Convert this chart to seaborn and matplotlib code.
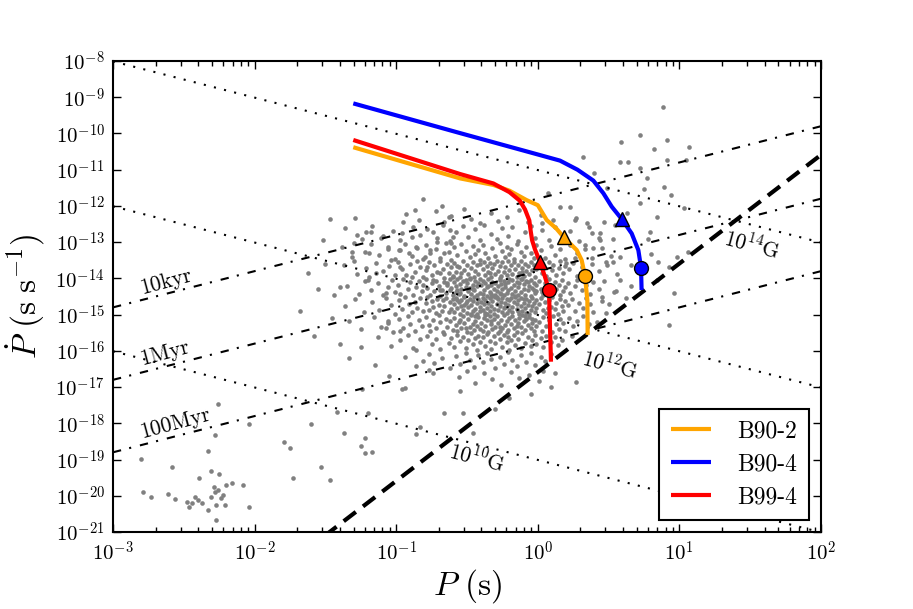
import numpy as np
import pandas as pd
import matplotlib
matplotlib.use("Agg")
import matplotlib.pyplot as plt
import seaborn as sns
from matplotlib.ticker import LogLocator, FuncFormatter, NullFormatter, NullLocator

# ---- pulsar population, (log10 P [s], log10 Pdot [s/s]) ----
msp_pts = [
    (-2.79, -19.89), (-2.73, -20.04), (-2.61, -19.96), (-2.56, -20.09), (-2.58, -19.20), (-2.80, -18.99),
    (-2.48, -20.16), (-2.46, -20.30), (-2.44, -20.21), (-2.42, -20.04), (-2.40, -20.12), (-2.39, -19.52),
    (-2.37, -20.21), (-2.33, -20.39), (-2.31, -20.03), (-2.31, -19.32), (-2.29, -19.75), (-2.28, -19.89),
    (-2.27, -20.25), (-2.26, -19.84), (-2.25, -19.40), (-2.24, -20.07), (-2.22, -19.98), (-2.21, -20.25),
    (-2.20, -19.70), (-2.16, -19.64), (-2.27, -20.67), (-2.08, -19.70), (-2.04, -20.32), (-2.33, -18.76),
    (-2.28, -18.32), (-2.26, -17.48), (-2.04, -18.03), (-1.79, -18.52), (-1.75, -18.69), (-1.73, -19.52),
    (-1.60, -18.03), (-1.53, -19.20), (-1.47, -19.57), (-1.42, -17.70), (-1.37, -18.28), (-1.24, -17.04),
    (-1.25, -18.63), (-1.22, -18.41), (-1.22, -18.81), (-1.17, -18.78), (-1.20, -17.71), (-0.96, -17.06),
    (-0.94, -17.03), (-0.86, -18.30), (-0.83, -18.11), (-0.66, -17.72), (-0.46, -18.28), (-0.53, -17.72),
]

sparse_pts = [
    (-1.07, -15.38), (-1.06, -15.17), (-0.97, -15.44), (-0.86, -15.98), (-0.81, -16.27), (-0.77, -16.53),
    (-1.44, -14.46), (-1.07, -14.40), (-1.62, -13.85), (-1.55, -14.30), (-1.50, -13.60), (-1.68, -14.90),
    (-1.45, -15.10), (-1.58, -15.60), (-1.52, -12.95), (-1.40, -15.80), (-1.33, -16.20), (-1.25, -15.90),
    (-1.15, -16.40), (-1.05, -16.70), (0.09, -16.99), (0.27, -16.85), (0.93, -15.29), (0.45, -14.50),
    (0.50, -14.72), (0.55, -14.35), (0.62, -14.55), (0.48, -14.95), (0.66, -14.20), (0.58, -14.05),
    (0.42, -15.20), (0.12, -16.60), (-0.05, -17.20), (-0.20, -17.30), (-0.55, -17.10), (-0.30, -17.60),
    (-1.47, -12.37), (-1.29, -12.33), (-1.28, -12.80), (-1.21, -12.71), (-1.18, -12.72), (-0.95, -12.44),
    (-0.87, -12.11), (-0.81, -11.81), (-0.68, -11.99), (-0.63, -12.30), (-1.30, -13.03), (-1.11, -12.89),
    (-1.06, -13.13), (-0.96, -12.76), (-0.89, -12.85), (-0.74, -12.71), (-0.62, -12.66), (-1.31, -13.26),
    (-1.19, -13.31), (-1.30, -13.51), (-1.40, -14.23), (-1.20, -14.04), (-1.14, -13.86), (-1.04, -13.49),
    (-0.97, -13.22), (-0.91, -13.31), (-0.86, -13.13), (-0.80, -13.40), (-0.76, -13.22), (-0.71, -12.99),
    (-0.66, -13.31), (-0.61, -13.03), (-0.60, -12.85), (-0.97, -13.68), (-0.89, -13.95), (-0.78, -13.68),
    (-0.74, -14.04), (-0.69, -13.86), (-0.64, -14.14), (-0.60, -13.95), (-0.57, -14.32), (-0.69, -14.32),
]

high_b_pts = [
    (0.886, -9.26), (0.59, -10.23), (0.72, -10.04), (0.91, -10.18), (0.82, -10.43), (1.07, -10.38),
    (0.32, -10.64), (0.58, -10.78), (0.64, -10.78), (0.91, -10.73), (1.05, -10.73), (0.72, -10.96),
    (0.77, -11.24), (0.40, -11.10), (0.49, -11.51), (0.89, -11.47), (0.75, -11.54), (0.94, -11.70),
    (0.07, -11.65), (0.72, -11.93), (0.23, -12.04), (1.03, -12.07), (0.84, -12.30), (0.47, -12.44),
    (0.63, -12.20), (0.26, -12.39), (0.545, -12.53), (0.79, -12.71), (0.38, -12.76), (0.43, -12.88),
    (0.33, -13.08), (0.39, -13.17), (0.78, -12.92), (0.44, -12.94), (0.98, -13.40), (1.06, -13.26),
    (0.80, -13.33), (0.85, -13.54), (0.58, -13.40), (0.53, -13.54), (0.49, -13.63), (0.26, -13.45),
    (0.20, -13.58), (0.93, -13.68), (0.66, -13.63), (0.96, -14.41), (0.84, -14.04), (0.03, -12.48),
]

cloud_upper = [
    (-0.93, -12.21), (-0.84, -12.38), (-0.72, -12.15), (-0.66, -12.44), (-0.61, -12.27), (-0.52, -12.09),
    (-0.47, -12.36), (-0.41, -12.48), (-0.33, -12.19), (-0.28, -12.42), (-0.22, -12.31), (-0.13, -12.12),
    (-0.07, -12.45), (0.02, -12.26), (0.11, -12.39), (0.16, -12.04), (0.27, -12.33), (0.35, -12.47),
    (-1.36, -12.62), (-1.24, -12.91), (-1.17, -12.55), (-1.09, -12.83), (-1.02, -12.68), (-0.97, -12.95),
    (-0.88, -12.58), (-0.83, -12.79), (-0.78, -12.64), (-0.71, -12.88), (-0.67, -12.52), (-0.62, -12.97),
    (-0.58, -12.71), (-0.53, -12.56), (-0.49, -12.86), (-0.44, -12.63), (-0.41, -12.94), (-0.38, -12.53),
    (-0.33, -12.77), (-0.29, -12.92), (-0.25, -12.61), (-0.21, -12.84), (-0.18, -12.58), (-0.14, -12.96),
    (-0.09, -12.72), (-0.05, -12.55), (-0.02, -12.89), (0.03, -12.66), (0.08, -12.93), (0.12, -12.57),
    (0.18, -12.81), (0.23, -12.69), (0.29, -12.97), (0.36, -12.58), (0.44, -12.75), (0.53, -12.91),
    (-1.38, -13.12), (-1.31, -13.41), (-1.22, -13.27), (-1.18, -13.06), (-1.12, -13.35), (-1.06, -13.18),
    (-1.01, -13.46), (-0.98, -13.23), (-0.94, -13.04), (-0.89, -13.38), (-0.85, -13.15), (-0.81, -13.47),
    (-0.79, -13.09), (-0.76, -13.31), (-0.72, -13.19), (-0.69, -13.44), (-0.65, -13.02), (-0.63, -13.27),
    (-0.61, -13.49), (-0.59, -13.13), (-0.57, -13.36), (-0.54, -13.05), (-0.51, -13.25), (-0.48, -13.42),
    (-0.46, -13.11), (-0.44, -13.33), (-0.42, -13.21), (-0.41, -13.48), (-0.39, -13.07), (-0.37, -13.29),
    (-0.35, -13.45), (-0.32, -13.16), (-0.30, -13.38), (-0.27, -13.03), (-0.25, -13.24), (-0.23, -13.41),
    (-0.22, -13.12), (-0.20, -13.34), (-0.19, -13.19), (-0.17, -13.47), (-0.15, -13.05), (-0.12, -13.28),
    (-0.10, -13.39), (-0.08, -13.14), (-0.05, -13.31), (-0.03, -13.45), (-0.01, -13.08), (0.02, -13.22),
    (0.05, -13.43), (0.09, -13.11), (0.12, -13.35), (0.16, -13.18), (0.19, -13.46), (0.23, -13.09),
    (0.28, -13.31), (0.33, -13.20), (0.38, -13.44), (0.45, -13.16), (0.52, -13.37),
]

cloud_core = [
    (-1.37, -13.62), (-1.28, -13.88), (-1.21, -13.71), (-1.19, -13.95), (-1.14, -13.58), (-1.09, -13.79),
    (-1.05, -13.66), (-1.01, -13.92), (-0.99, -13.55), (-0.96, -13.74), (-0.93, -13.90), (-0.90, -13.61),
    (-0.87, -13.83), (-0.85, -13.52), (-0.83, -13.69), (-0.81, -13.97), (-0.79, -13.77), (-0.77, -13.56),
    (-0.75, -13.91), (-0.73, -13.64), (-0.71, -13.82), (-0.69, -13.53), (-0.67, -13.73), (-0.66, -13.98),
    (-0.64, -13.60), (-0.63, -13.86), (-0.61, -13.69), (-0.60, -13.94), (-0.59, -13.57), (-0.58, -13.81),
    (-0.56, -13.68), (-0.55, -13.95), (-0.53, -13.52), (-0.52, -13.76), (-0.50, -13.63), (-0.49, -13.89),
    (-0.47, -13.71), (-0.46, -13.55), (-0.45, -13.97), (-0.44, -13.80), (-0.43, -13.64), (-0.42, -13.87),
    (-0.41, -13.59), (-0.48, -13.99), (-0.54, -13.84), (-0.57, -13.66), (-0.39, -13.74), (-0.38, -13.54),
    (-0.37, -13.92), (-0.36, -13.67), (-0.35, -13.83), (-0.34, -13.58), (-0.33, -13.96), (-0.32, -13.72),
    (-0.31, -13.61), (-0.30, -13.88), (-0.29, -13.51), (-0.28, -13.79), (-0.27, -13.65), (-0.26, -13.94),
    (-0.25, -13.56), (-0.24, -13.81), (-0.23, -13.69), (-0.22, -13.90), (-0.21, -13.53), (-0.20, -13.76),
    (-0.34, -13.85), (-0.27, -13.99), (-0.19, -13.64), (-0.18, -13.87), (-0.17, -13.55), (-0.16, -13.75),
    (-0.15, -13.97), (-0.14, -13.62), (-0.13, -13.84), (-0.12, -13.51), (-0.11, -13.71), (-0.10, -13.93),
    (-0.09, -13.59), (-0.08, -13.80), (-0.07, -13.67), (-0.06, -13.89), (-0.05, -13.54), (-0.04, -13.77),
    (-0.03, -13.63), (-0.02, -13.96), (-0.01, -13.73), (-0.11, -13.82), (0.01, -13.58), (0.03, -13.85),
    (0.04, -13.69), (0.06, -13.94), (0.08, -13.56), (0.10, -13.78), (0.11, -13.62), (0.13, -13.91),
    (0.15, -13.72), (0.16, -13.53), (0.18, -13.86), (0.19, -13.66), (0.22, -13.74), (0.25, -13.57),
    (0.28, -13.93), (0.31, -13.68), (0.35, -13.82), (0.38, -13.60), (0.43, -13.79), (0.48, -13.55),
    (0.56, -13.87),
    (-1.35, -14.21), (-1.26, -14.44), (-1.22, -14.08), (-1.18, -14.33), (-1.13, -14.12), (-1.09, -14.47),
    (-1.06, -14.25), (-1.03, -14.05), (-1.01, -14.38), (-0.99, -14.17), (-0.97, -14.42), (-0.95, -14.03),
    (-0.92, -14.29), (-0.90, -14.11), (-0.88, -14.46), (-0.86, -14.23), (-0.84, -14.07), (-0.82, -14.35),
    (-0.81, -14.19), (-0.79, -14.02), (-0.78, -14.27), (-0.76, -14.45), (-0.75, -14.14), (-0.73, -14.36),
    (-0.72, -14.06), (-0.70, -14.22), (-0.69, -14.49), (-0.68, -14.31), (-0.66, -14.10), (-0.65, -14.40),
    (-0.64, -14.18), (-0.62, -14.03), (-0.62, -14.33), (-0.61, -14.26), (-0.60, -14.47), (-0.59, -14.09),
    (-0.58, -14.38), (-0.58, -14.21), (-0.57, -14.01), (-0.56, -14.44), (-0.55, -14.15), (-0.54, -14.30),
    (-0.53, -14.06), (-0.52, -14.48), (-0.51, -14.24), (-0.50, -14.12), (-0.49, -14.36), (-0.48, -14.03),
    (-0.48, -14.27), (-0.47, -14.43), (-0.46, -14.17), (-0.45, -14.33), (-0.44, -14.08), (-0.43, -14.46),
    (-0.43, -14.22), (-0.42, -14.13), (-0.41, -14.39), (-0.41, -14.02), (-0.55, -14.41), (-0.51, -14.05),
    (-0.46, -14.29), (-0.40, -14.19), (-0.39, -14.44), (-0.39, -14.06), (-0.38, -14.31), (-0.37, -14.14),
    (-0.36, -14.48), (-0.36, -14.25), (-0.35, -14.03), (-0.34, -14.37), (-0.33, -14.17), (-0.33, -14.42),
    (-0.32, -14.09), (-0.31, -14.28), (-0.30, -14.46), (-0.30, -14.12), (-0.29, -14.34), (-0.28, -14.21),
    (-0.27, -14.04), (-0.27, -14.39), (-0.26, -14.15), (-0.25, -14.29), (-0.24, -14.47), (-0.24, -14.08),
    (-0.23, -14.23), (-0.22, -14.41), (-0.21, -14.11), (-0.21, -14.33), (-0.20, -14.02), (-0.35, -14.22),
    (-0.32, -14.49), (-0.26, -14.44), (-0.23, -14.16), (-0.19, -14.27), (-0.18, -14.05), (-0.18, -14.43),
    (-0.17, -14.18), (-0.16, -14.35), (-0.15, -14.09), (-0.14, -14.46), (-0.14, -14.24), (-0.13, -14.13),
    (-0.12, -14.38), (-0.11, -14.01), (-0.10, -14.29), (-0.10, -14.16), (-0.09, -14.45), (-0.08, -14.07),
    (-0.07, -14.32), (-0.06, -14.21), (-0.05, -14.48), (-0.05, -14.04), (-0.04, -14.26), (-0.03, -14.14),
    (-0.02, -14.41), (-0.01, -14.19), (-0.01, -14.35), (-0.16, -14.49), (-0.12, -14.03), (-0.07, -14.11),
    (-0.03, -14.31), (0.01, -14.07), (0.02, -14.28), (0.04, -14.45), (0.05, -14.14), (0.07, -14.34),
    (0.08, -14.02), (0.09, -14.22), (0.11, -14.41), (0.12, -14.11), (0.13, -14.30), (0.15, -14.18),
    (0.16, -14.47), (0.17, -14.05), (0.18, -14.36), (0.19, -14.24), (0.03, -14.37), (0.21, -14.12),
    (0.23, -14.39), (0.26, -14.21), (0.28, -14.05), (0.31, -14.33), (0.34, -14.17), (0.37, -14.44),
    (0.39, -14.09), (0.43, -14.28), (0.47, -14.06), (0.54, -14.37),
    (-1.36, -14.77), (-1.29, -14.58), (-1.23, -14.92), (-1.17, -14.66), (-1.12, -14.88), (-1.07, -14.53),
    (-1.04, -14.74), (-1.01, -14.97), (-0.98, -14.61), (-0.96, -14.85), (-0.94, -14.52), (-0.91, -14.72),
    (-0.89, -14.94), (-0.87, -14.64), (-0.85, -14.81), (-0.83, -14.55), (-0.81, -14.90), (-0.79, -14.68),
    (-0.78, -14.51), (-0.77, -14.87), (-0.75, -14.62), (-0.74, -14.79), (-0.72, -14.96), (-0.71, -14.56),
    (-0.70, -14.73), (-0.68, -14.89), (-0.67, -14.60), (-0.66, -14.77), (-0.65, -14.53), (-0.63, -14.93),
    (-0.62, -14.66), (-0.61, -14.84), (-0.60, -14.57), (-0.59, -14.71), (-0.59, -14.92), (-0.58, -14.54),
    (-0.57, -14.83), (-0.56, -14.65), (-0.55, -14.98), (-0.54, -14.59), (-0.54, -14.76), (-0.53, -14.87),
    (-0.52, -14.52), (-0.51, -14.69), (-0.50, -14.95), (-0.50, -14.62), (-0.49, -14.80), (-0.48, -14.56),
    (-0.47, -14.74), (-0.46, -14.91), (-0.46, -14.63), (-0.45, -14.51), (-0.44, -14.85), (-0.43, -14.68),
    (-0.43, -14.97), (-0.42, -14.58), (-0.41, -14.78), (-0.41, -14.89), (-0.57, -14.61), (-0.52, -14.73),
    (-0.47, -14.99), (-0.40, -14.64), (-0.39, -14.86), (-0.39, -14.53), (-0.38, -14.72), (-0.37, -14.95),
    (-0.37, -14.60), (-0.36, -14.81), (-0.35, -14.67), (-0.34, -14.55), (-0.34, -14.90), (-0.33, -14.75),
    (-0.32, -14.62), (-0.31, -14.98), (-0.31, -14.84), (-0.30, -14.51), (-0.29, -14.70), (-0.28, -14.88),
    (-0.28, -14.58), (-0.27, -14.77), (-0.26, -14.65), (-0.25, -14.93), (-0.25, -14.54), (-0.24, -14.82),
    (-0.23, -14.69), (-0.22, -14.57), (-0.22, -14.96), (-0.21, -14.74), (-0.20, -14.87), (-0.20, -14.61),
    (-0.36, -14.99), (-0.29, -14.52), (-0.23, -14.78), (-0.19, -14.55), (-0.18, -14.79), (-0.18, -14.94),
    (-0.17, -14.66), (-0.16, -14.52), (-0.15, -14.85), (-0.15, -14.71), (-0.14, -14.60), (-0.13, -14.97),
    (-0.12, -14.76), (-0.12, -14.53), (-0.11, -14.89), (-0.10, -14.67), (-0.09, -14.81), (-0.08, -14.58),
    (-0.08, -14.95), (-0.07, -14.73), (-0.06, -14.63), (-0.05, -14.88), (-0.04, -14.54), (-0.04, -14.77),
    (-0.03, -14.69), (-0.02, -14.92), (-0.01, -14.60), (-0.01, -14.83), (-0.14, -14.90), (-0.10, -14.56),
    (-0.06, -14.98), (0.01, -14.71), (0.02, -14.53), (0.04, -14.88), (0.05, -14.65), (0.06, -14.95),
    (0.08, -14.59), (0.09, -14.78), (0.10, -14.51), (0.12, -14.84), (0.13, -14.68), (0.14, -14.97),
    (0.16, -14.57), (0.17, -14.76), (0.18, -14.91), (0.19, -14.63), (0.07, -14.82), (0.21, -14.74),
    (0.24, -14.56), (0.26, -14.89), (0.29, -14.67), (0.32, -14.82), (0.34, -14.54), (0.37, -14.71),
    (0.39, -14.93), (0.45, -14.62),
]

cloud_lower = [
    (-1.33, -15.18), (-1.25, -15.41), (-1.16, -15.07), (-1.11, -15.33), (-1.06, -15.22), (-1.02, -15.47),
    (-0.98, -15.12), (-0.95, -15.36), (-0.92, -15.03), (-0.90, -15.25), (-0.87, -15.44), (-0.84, -15.16),
    (-0.82, -15.31), (-0.79, -15.06), (-0.77, -15.28), (-0.76, -15.45), (-0.74, -15.14), (-0.72, -15.37),
    (-0.70, -15.02), (-0.69, -15.21), (-0.67, -15.48), (-0.65, -15.11), (-0.64, -15.33), (-0.62, -15.19),
    (-0.60, -15.42), (-0.59, -15.08), (-0.58, -15.29), (-0.57, -15.46), (-0.55, -15.15), (-0.54, -15.38),
    (-0.53, -15.04), (-0.52, -15.23), (-0.50, -15.49), (-0.49, -15.12), (-0.48, -15.34), (-0.47, -15.01),
    (-0.46, -15.26), (-0.45, -15.43), (-0.44, -15.17), (-0.43, -15.31), (-0.42, -15.07), (-0.41, -15.39),
    (-0.56, -15.21), (-0.51, -15.36), (-0.44, -15.05), (-0.40, -15.22), (-0.39, -15.44), (-0.38, -15.09),
    (-0.37, -15.31), (-0.36, -15.16), (-0.35, -15.47), (-0.34, -15.03), (-0.33, -15.27), (-0.32, -15.39),
    (-0.31, -15.12), (-0.30, -15.33), (-0.29, -15.05), (-0.28, -15.24), (-0.27, -15.46), (-0.26, -15.14),
    (-0.25, -15.36), (-0.24, -15.02), (-0.23, -15.28), (-0.22, -15.19), (-0.21, -15.42), (-0.20, -15.08),
    (-0.37, -15.01), (-0.33, -15.18), (-0.27, -15.35), (-0.22, -15.49), (-0.19, -15.26), (-0.18, -15.04),
    (-0.17, -15.38), (-0.16, -15.15), (-0.15, -15.47), (-0.14, -15.22), (-0.13, -15.09), (-0.12, -15.33),
    (-0.11, -15.01), (-0.10, -15.19), (-0.09, -15.42), (-0.08, -15.12), (-0.07, -15.29), (-0.06, -15.06),
    (-0.05, -15.37), (-0.04, -15.23), (-0.03, -15.45), (-0.02, -15.14), (-0.01, -15.31), (-0.15, -15.32),
    (-0.09, -15.05), (-0.04, -15.11), (0.01, -15.21), (0.03, -15.44), (0.04, -15.07), (0.06, -15.32),
    (0.08, -15.16), (0.10, -15.48), (0.11, -15.03), (0.13, -15.27), (0.15, -15.39), (0.16, -15.11),
    (0.18, -15.24), (0.19, -15.46), (0.22, -15.09), (0.25, -15.31), (0.28, -15.18), (0.32, -15.04),
    (0.36, -15.27),
    (-1.13, -15.62), (-1.04, -15.86), (-0.97, -15.71), (-0.92, -15.55), (-0.88, -15.93), (-0.83, -15.66),
    (-0.78, -15.58), (-0.75, -15.82), (-0.72, -15.68), (-0.69, -15.96), (-0.66, -15.53), (-0.63, -15.77),
    (-0.61, -15.64), (-0.59, -15.89), (-0.57, -15.56), (-0.55, -15.74), (-0.53, -15.61), (-0.51, -15.92),
    (-0.49, -15.69), (-0.47, -15.52), (-0.46, -15.81), (-0.44, -15.65), (-0.43, -15.97), (-0.42, -15.58),
    (-0.41, -15.76), (-0.39, -15.63), (-0.37, -15.88), (-0.36, -15.54), (-0.34, -15.72), (-0.33, -15.95),
    (-0.31, -15.60), (-0.30, -15.79), (-0.28, -15.51), (-0.27, -15.67), (-0.25, -15.90), (-0.24, -15.57),
    (-0.22, -15.75), (-0.21, -15.62), (-0.20, -15.98), (-0.19, -15.70), (-0.17, -15.55), (-0.16, -15.84),
    (-0.14, -15.66), (-0.12, -15.93), (-0.11, -15.52), (-0.09, -15.77), (-0.07, -15.61), (-0.05, -15.87),
    (-0.04, -15.69), (-0.02, -15.56), (-0.01, -15.81), (0.02, -15.64), (0.04, -15.90), (0.06, -15.58),
    (0.09, -15.76), (0.12, -15.62), (0.14, -15.85), (0.17, -15.71), (0.24, -15.60),
    (-0.94, -16.18), (-0.86, -16.41), (-0.77, -16.09), (-0.73, -16.33), (-0.68, -16.21), (-0.62, -16.46),
    (-0.58, -16.14), (-0.55, -16.37), (-0.51, -16.05), (-0.48, -16.26), (-0.45, -16.44), (-0.42, -16.11),
    (-0.39, -16.31), (-0.36, -16.07), (-0.33, -16.22), (-0.30, -16.48), (-0.27, -16.16), (-0.24, -16.35),
    (-0.21, -16.03), (-0.18, -16.24), (-0.15, -16.42), (-0.12, -16.12), (-0.08, -16.30), (-0.05, -16.06),
    (-0.02, -16.39), (0.02, -16.17), (0.05, -16.28), (0.09, -16.08),
    (-0.74, -16.62), (-0.56, -16.71), (-0.50, -16.55), (-0.44, -16.88), (-0.38, -16.60), (-0.32, -16.79),
    (-0.26, -16.94), (-0.19, -16.58), (-0.13, -16.74), (-0.06, -16.66), (0.01, -16.83), (0.04, -16.57),
]

# ---- evolutionary tracks (log10 P, log10 Pdot) ----
track_labels = ["B90-2", "B90-4", "B99-4"]
track_colors = ["orange", "blue", "red"]
track_b90_2 = [(-1.303, -10.38), (-0.549, -11.24), (-0.314, -11.42), (-0.20, -11.58), (-0.079, -11.84),
               (0.0, -11.98), (0.063, -12.39), (0.13, -12.62), (0.18, -12.85), (0.275, -13.22),
               (0.31, -13.50), (0.333, -13.93), (0.35, -14.60), (0.352, -15.56)]
track_b90_4 = [(-1.303, -9.17), (-0.549, -9.99), (0.0, -10.58), (0.157, -10.75), (0.28, -11.00),
               (0.392, -11.30), (0.463, -11.65), (0.522, -12.02), (0.592, -12.36), (0.663, -12.76),
               (0.71, -13.22), (0.729, -13.70), (0.733, -14.32)]
track_b99_4 = [(-1.303, -10.18), (-0.549, -11.12), (-0.314, -11.38), (-0.20, -11.62), (-0.126, -11.86),
               (-0.09, -12.10), (-0.06, -12.40), (-0.05, -12.70), (-0.04, -12.95), (-0.02, -13.20),
               (0.015, -13.54), (0.05, -13.95), (0.079, -14.32), (0.086, -15.33), (0.093, -16.30)]
triangle_pts = [(0.185, -12.85), (0.592, -12.36), (0.015, -13.54)]
circle_pts = [(0.333, -13.93), (0.729, -13.70), (0.079, -14.32)]

# ---- reference lines ----
field_gauss = [1e10, 1e12, 1e14]
field_texts = [r"$10^{10}$G", r"$10^{12}$G", r"$10^{14}$G"]
age_years = [1e4, 1e6, 1e8]
age_texts = ["10kyr", "1Myr", "100Myr"]
death_slope = 3.0
death_log_pdot_1s = -16.59

sns.set_theme(style="ticks")
plt.rcParams.update({
    "font.family": ["cmr10", "DejaVu Serif"],
    "mathtext.fontset": "cm",
    "axes.formatter.use_mathtext": True,
    "axes.unicode_minus": False,
    "lines.scale_dashes": False,
    "axes.edgecolor": "black",
    "axes.linewidth": 1.5,
    "text.color": "black",
    "axes.labelcolor": "black",
    "xtick.color": "black",
    "ytick.color": "black",
})

rows = []
for name, pts in [("msp", msp_pts), ("sparse", sparse_pts), ("highb", high_b_pts),
                  ("upper", cloud_upper), ("core", cloud_core), ("lower", cloud_lower)]:
    for lp, lpd in pts:
        rows.append({"group": name, "P": 10 ** lp, "Pdot": 10 ** lpd})
psr = pd.DataFrame(rows)

fig = plt.figure(figsize=(9.13, 6.09), dpi=100)
ax = fig.add_axes([113 / 913, 1 - 532 / 609, 708 / 913, 471 / 609])
ax.set_xscale("log")
ax.set_yscale("log")

sns.scatterplot(data=psr, x="P", y="Pdot", color="gray", s=11, linewidth=0,
                legend=False, ax=ax, zorder=1)

p_grid = np.logspace(-3, 2, 300)
for b in field_gauss:
    ax.plot(p_grid, (b / 3.2e19) ** 2 / p_grid, color="black", lw=1.5,
            ls=(0, (1.5, 6)), zorder=2)
for t in age_years:
    ax.plot(p_grid, p_grid / (2 * t * 3.156e7), color="black", lw=1.5,
            ls=(0, (6, 6, 1.5, 6.5)), zorder=2)
ax.plot(p_grid, 10 ** death_log_pdot_1s * p_grid ** death_slope, color="black",
        lw=3, ls=(0, (11, 6.5)), zorder=2)

for lab, col, trk in zip(track_labels, track_colors, [track_b90_2, track_b90_4, track_b99_4]):
    lp, lpd = np.array(trk).T
    ax.plot(10 ** lp, 10 ** lpd, color=col, lw=3, label=lab, zorder=3, solid_capstyle="butt")
for col, (lp, lpd) in zip(track_colors, triangle_pts):
    ax.plot(10 ** lp, 10 ** lpd, marker="^", ms=10, color=col, mec="black", mew=1, zorder=4)
for col, (lp, lpd) in zip(track_colors, circle_pts):
    ax.plot(10 ** lp, 10 ** lpd, marker="o", ms=10, color=col, mec="black", mew=1, zorder=4)

# labels on the reference lines
for txt, (x, y) in zip(age_texts, [(10 ** -2.626, 10 ** -14.10), (10 ** -2.633, 10 ** -16.06),
                                   (10 ** -2.56, 10 ** -17.99)]):
    ax.text(x, y, txt, fontsize=15.5, rotation=15, ha="center", va="center", zorder=5)
for txt, (x, y) in zip(field_texts, [(10 ** -0.43, 10 ** -18.93), (10 ** 0.51, 10 ** -16.36),
                                     (10 ** 1.513, 10 ** -13.05)]):
    ax.text(x, y, txt, fontsize=15.5, rotation=-15, ha="center", va="center", zorder=5)

ax.set_xlim(1e-3, 1e2)
ax.set_ylim(1e-21, 1e-8)

fmt = FuncFormatter(lambda v, _: r"$10^{%d}$" % round(np.log10(v)))
ax.xaxis.set_major_locator(LogLocator(base=10, numticks=10))
ax.xaxis.set_minor_locator(LogLocator(base=10, subs=np.arange(2, 10), numticks=20))
ax.xaxis.set_minor_formatter(NullFormatter())
ax.xaxis.set_major_formatter(fmt)
ax.yaxis.set_major_locator(LogLocator(base=10, numticks=20))
ax.yaxis.set_minor_locator(NullLocator())
ax.yaxis.set_major_formatter(fmt)
ax.tick_params(which="both", direction="in", top=True, right=True, labelsize=15, colors="black")
ax.tick_params(which="major", length=6, width=1, pad=6)
ax.tick_params(which="minor", length=3.5, width=1)

ax.set_xlabel(r"$P\ (\mathrm{s})$", fontsize=24, labelpad=2)
ax.set_ylabel(r"$\dot{P}\ (\mathrm{s\ s^{-1}})$", fontsize=24, labelpad=6)

leg = ax.legend(loc="lower right", bbox_to_anchor=(0.983, 0.0255), borderaxespad=0,
                fontsize=17, frameon=True, fancybox=False, handlelength=1.7,
                handletextpad=1.1, labelspacing=0.45, borderpad=0.5)
leg.get_frame().set_edgecolor("black")
leg.get_frame().set_linewidth(1.5)
leg.get_frame().set_alpha(1)

fig.savefig("out.png", dpi=100)
